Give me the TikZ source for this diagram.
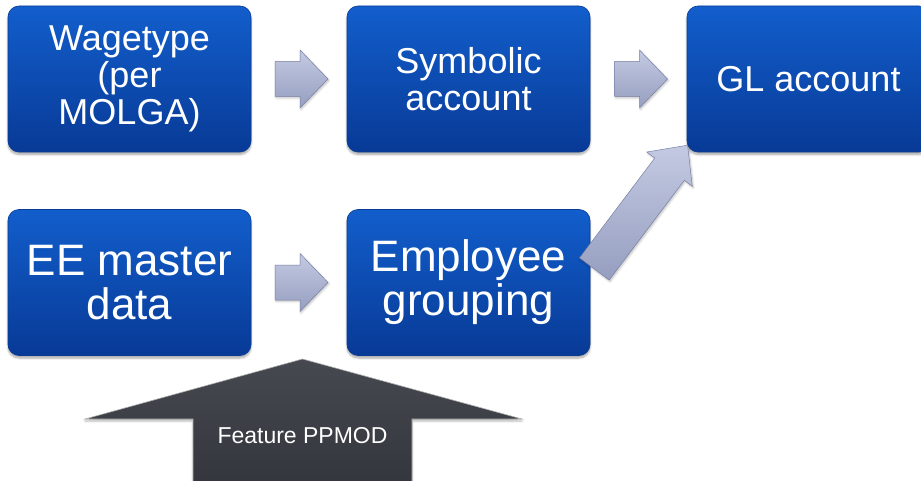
\documentclass[tikz,border=0pt]{standalone}
\usepackage{fontspec}
\setmainfont{Liberation Sans}
\usetikzlibrary{calc,shadows.blur}
\definecolor{boxtop}{RGB}{18,94,204}
\definecolor{boxbot}{RGB}{8,58,150}
\definecolor{boxedge}{RGB}{10,60,150}
\definecolor{arrtop}{RGB}{196,202,226}
\definecolor{arrbot}{RGB}{150,158,192}
\definecolor{arredge}{RGB}{120,128,165}
\definecolor{bigtop}{RGB}{70,73,80}
\definecolor{bigbot}{RGB}{50,53,60}
\tikzset{
  box/.style={rectangle, rounded corners=11pt, minimum width=243pt, minimum height=146pt,
    top color=boxtop, bottom color=boxbot, draw=boxedge, line width=0.6pt,
    text=white, align=center, inner sep=2pt,
    blur shadow={shadow xshift=0pt, shadow yshift=-2.5pt, shadow blur steps=6, shadow opacity=35}},
  midtext/.style={font=\fontsize{36}{37}\selectfont},
  bigtext/.style={font=\fontsize{44}{44}\selectfont},
  arrowfill/.style={top color=arrtop, bottom color=arrbot, draw=arredge, line width=0.5pt, line join=miter},
  pics/smallarrow/.style={code={
    \path[arrowfill, blur shadow={shadow xshift=1pt, shadow yshift=-1.5pt, shadow opacity=25}]
      (-26,-17.5) -- (-1,-17.5) -- (-1,-29) -- (27,0) -- (-1,29) -- (-1,17.5) -- (-26,17.5) -- cycle;
  }},
  pics/diagarrow/.style={code={
    \path[arrowfill, blur shadow={shadow xshift=1pt, shadow yshift=-1.5pt, shadow opacity=25}]
      (0,-18.5) -- (125,-18.5) -- (125,-28.5) -- (155,0) -- (125,28.5) -- (125,18.5) -- (0,18.5) -- cycle;
  }},
}
\begin{document}
\begin{tikzpicture}[x=1pt,y=-1pt]
\useasboundingbox (0,0) rectangle (921,481);
\node[box, midtext] (wt) at (129.5,79) {Wagetype\\(per\\MOLGA)};
\node[box, midtext] (sa) at (468.5,79) {Symbolic\\account};
\node[box, midtext] (gl) at (808.5,79) {GL account};
\node[box, bigtext] (ee) at (129.5,282.5) {EE master\\data};
\node[box, bigtext] (eg) at (468.5,282.5) {Employee\\grouping};
\pic at ($(wt.east)!0.5!(sa.west)+(2,0)$) {smallarrow};
\pic at ($(sa.east)!0.5!(gl.west)+(2,0)$) {smallarrow};
\pic at ($(ee.east)!0.5!(eg.west)+(2,0)$) {smallarrow};
\coordinate (dtail) at ($(eg.east)+(4,-13.5)$);
\pic[rotate=53] at (dtail) {diagarrow};
% big up arrow
\path[top color=bigtop, bottom color=bigbot, draw=white!70!black, line width=0.6pt,
  blur shadow={shadow xshift=0pt, shadow yshift=-2pt, shadow opacity=30}]
  (193,490) -- (193,419) -- (85,419) -- (302.5,359) -- (522,419) -- (412,419) -- (412,490) -- cycle;
\node[text=white, font=\fontsize{23}{23}\selectfont] (fp) at (302.5,436) {Feature PPMOD};
\end{tikzpicture}
\end{document}
